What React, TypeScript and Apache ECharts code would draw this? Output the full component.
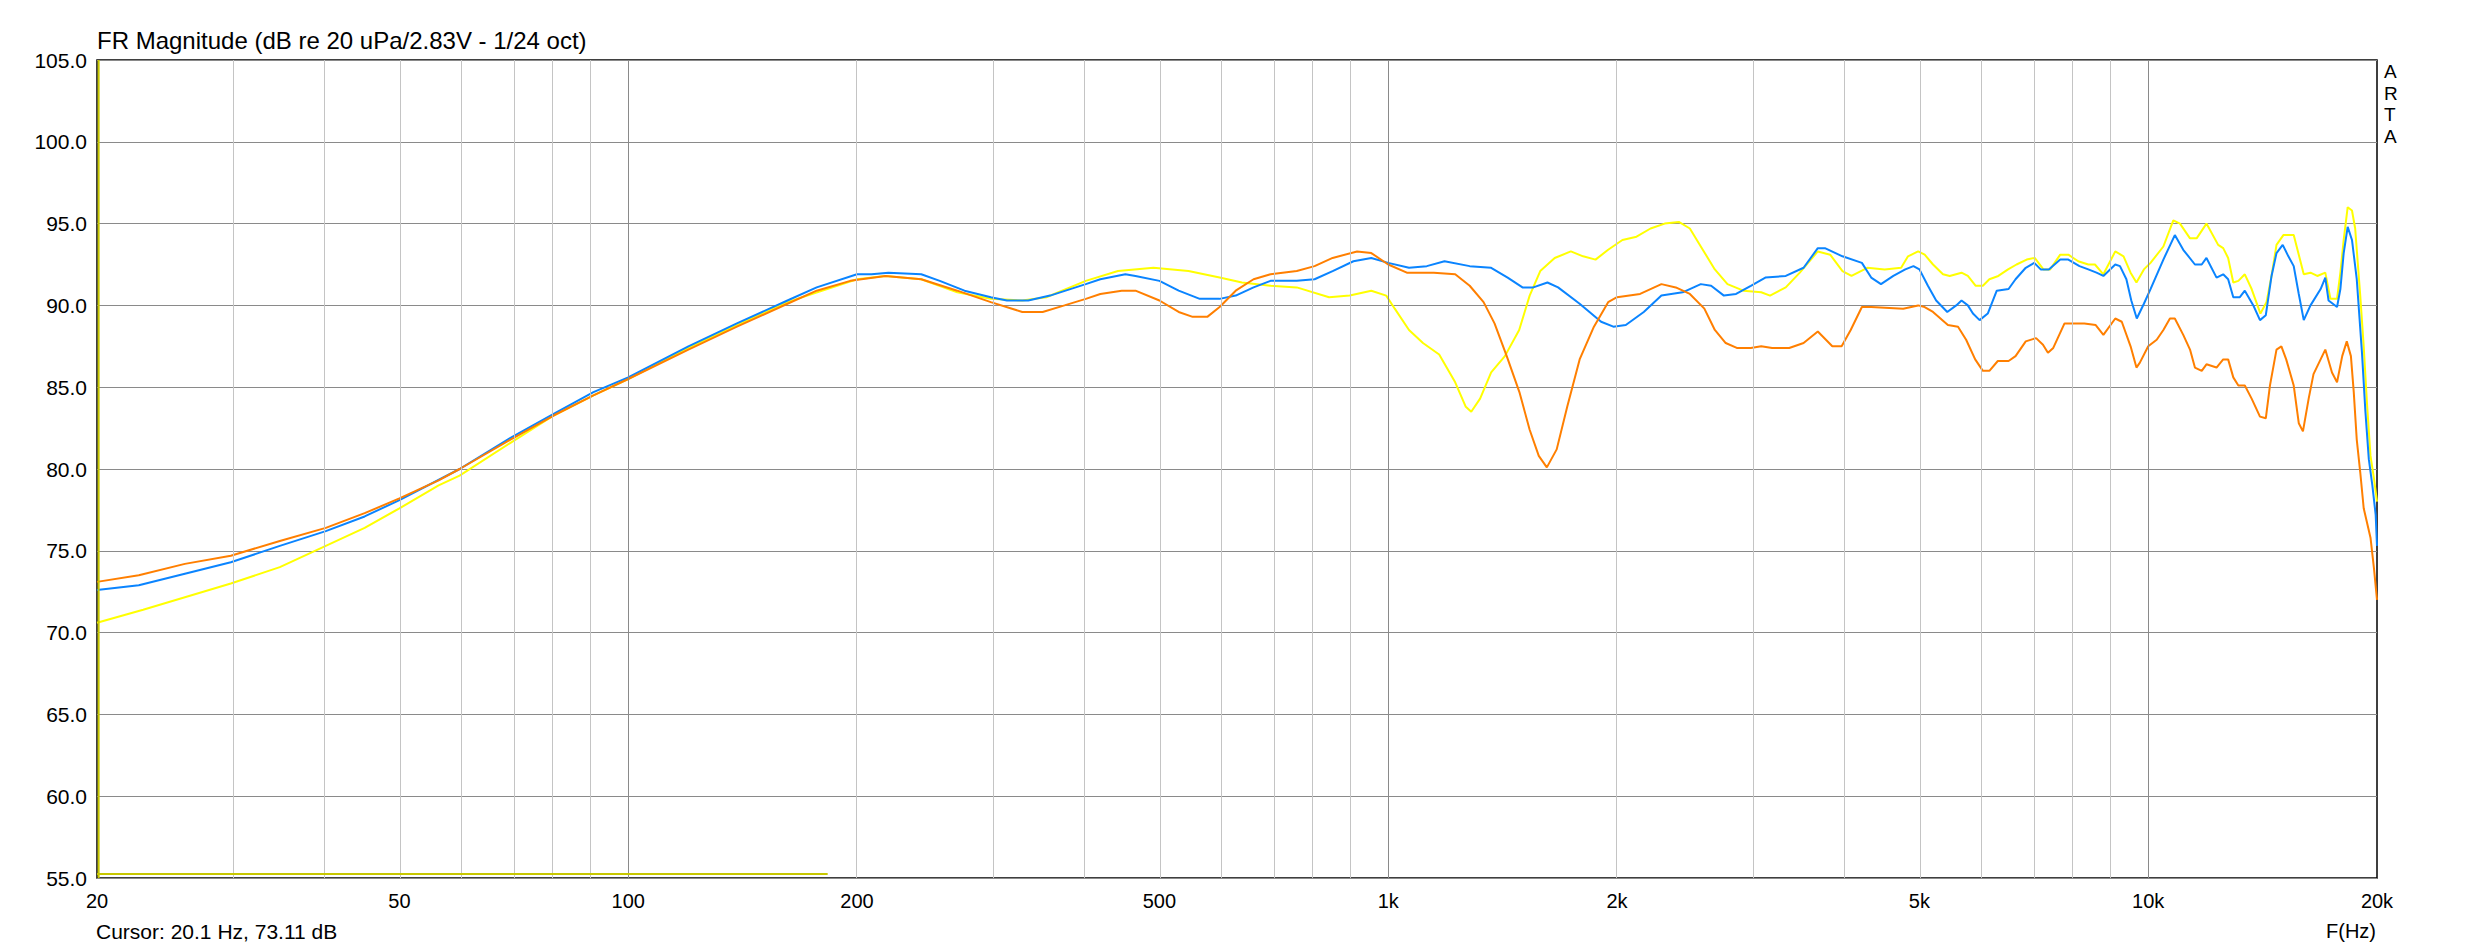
import React, { useEffect, useRef } from "react";
import * as echarts from "echarts";

// ---- data ----
const xTickFreqs = [20, 50, 100, 200, 500, 1000, 2000, 5000, 10000, 20000];
const minorGridFreqs = [30, 40, 50, 60, 70, 80, 90, 200, 300, 400, 500, 600, 700, 800, 900, 2000, 3000, 4000, 5000, 6000, 7000, 8000, 9000];
const majorGridFreqs = [100, 1000, 10000];

const blueFreq = [20, 22.7, 26.1, 30, 34.8, 40, 45, 50, 60, 70, 80, 90, 100, 120, 139, 162, 177, 200, 209, 220, 243, 257, 277, 300, 315, 336, 359, 400, 418, 451, 465, 500, 530, 565, 600, 630, 665, 700, 758, 800, 845, 900, 950, 1000, 1065, 1124, 1186, 1280, 1366, 1436, 1502, 1552, 1620, 1673, 1786, 1906, 1978, 2054, 2169, 2288, 2440, 2578, 2660, 2765, 2869, 3000, 3135, 3335, 3520, 3675, 3755, 3960, 4200, 4320, 4450, 4620, 4790, 4910, 5000, 5130, 5260, 5440, 5590, 5680, 5790, 5880, 6000, 6150, 6320, 6550, 6690, 6900, 7080, 7220, 7400, 7660, 7850, 8120, 8340, 8550, 8730, 9050, 9180, 9360, 9500, 9660, 9870, 10070, 10470, 10840, 11120, 11520, 11760, 11930, 12300, 12550, 12740, 12940, 13200, 13400, 13750, 14030, 14280, 14530, 14750, 15030, 15290, 15540, 15780, 16020, 16350, 16860, 17100, 17270, 17720, 17900, 18080, 18300, 18540, 18810, 19110, 19310, 19510, 19720, 19920, 20000];
const blueDb = [72.6, 72.9, 73.6, 74.3, 75.3, 76.2, 77.1, 78.1, 80.0, 81.9, 83.4, 84.7, 85.6, 87.5, 88.9, 90.3, 91.1, 91.9, 91.9, 92.0, 91.9, 91.5, 90.9, 90.5, 90.3, 90.3, 90.6, 91.3, 91.6, 91.9, 91.8, 91.5, 90.9, 90.4, 90.4, 90.6, 91.1, 91.5, 91.5, 91.6, 92.1, 92.7, 92.9, 92.6, 92.3, 92.4, 92.7, 92.4, 92.3, 91.7, 91.1, 91.1, 91.4, 91.1, 90.1, 89.0, 88.7, 88.8, 89.6, 90.6, 90.8, 91.3, 91.2, 90.6, 90.7, 91.2, 91.7, 91.8, 92.3, 93.5, 93.5, 93.0, 92.6, 91.7, 91.3, 91.8, 92.2, 92.4, 92.2, 91.2, 90.3, 89.6, 90.0, 90.3, 90.0, 89.5, 89.1, 89.5, 90.9, 91.0, 91.6, 92.3, 92.6, 92.2, 92.2, 92.8, 92.8, 92.4, 92.2, 92.0, 91.8, 92.5, 92.4, 91.6, 90.3, 89.2, 90.1, 91.0, 92.8, 94.3, 93.4, 92.5, 92.5, 92.9, 91.7, 91.9, 91.6, 90.5, 90.5, 90.9, 90.0, 89.1, 89.4, 91.8, 93.2, 93.7, 93.0, 92.4, 90.7, 89.1, 90.0, 91.0, 91.7, 90.3, 89.9, 91.0, 93.2, 94.8, 94.0, 91.6, 87.1, 83.5, 80.6, 79.0, 77.2, 75.3];

const orangeFreq = [20, 22.7, 26.1, 30, 34.8, 40, 45, 50, 56.3, 60, 70, 80, 90, 100, 120, 139, 162, 177, 196, 218, 243, 271, 300, 330, 351, 375, 400, 418, 446, 465, 500, 530, 553, 578, 600, 630, 665, 700, 758, 800, 845, 910, 950, 1000, 1058, 1148, 1225, 1280, 1335, 1380, 1432, 1488, 1535, 1578, 1617, 1666, 1720, 1786, 1865, 1947, 2000, 2145, 2288, 2390, 2494, 2606, 2690, 2780, 2875, 3000, 3096, 3200, 3370, 3520, 3675, 3840, 3950, 4060, 4200, 4320, 4760, 4980, 5080, 5210, 5450, 5620, 5760, 5920, 6060, 6180, 6340, 6550, 6690, 6900, 7120, 7270, 7380, 7500, 7760, 8030, 8240, 8530, 8730, 9050, 9230, 9480, 9650, 9750, 10000, 10260, 10470, 10680, 10840, 11120, 11350, 11520, 11760, 11930, 12300, 12550, 12740, 12940, 13140, 13400, 13680, 14030, 14280, 14460, 14750, 14970, 15190, 15540, 15780, 15980, 16260, 16500, 17100, 17450, 17720, 18000, 18250, 18480, 18640, 18810, 19010, 19210, 19610, 19820, 20000];
const orangeDb = [73.1, 73.5, 74.2, 74.7, 75.6, 76.4, 77.3, 78.2, 79.3, 80.0, 81.8, 83.3, 84.5, 85.5, 87.3, 88.7, 90.1, 90.9, 91.5, 91.8, 91.6, 90.9, 90.2, 89.6, 89.6, 90.0, 90.4, 90.7, 90.9, 90.9, 90.3, 89.6, 89.3, 89.3, 89.9, 90.9, 91.6, 91.9, 92.1, 92.4, 92.9, 93.3, 93.2, 92.5, 92.0, 92.0, 91.9, 91.2, 90.2, 88.9, 86.9, 84.7, 82.4, 80.8, 80.1, 81.2, 83.8, 86.7, 88.7, 90.2, 90.5, 90.7, 91.3, 91.1, 90.7, 89.8, 88.5, 87.7, 87.4, 87.4, 87.5, 87.4, 87.4, 87.7, 88.4, 87.5, 87.5, 88.5, 89.9, 89.9, 89.8, 90.0, 89.9, 89.6, 88.8, 88.7, 87.9, 86.7, 86.0, 86.0, 86.6, 86.6, 86.9, 87.8, 88.0, 87.6, 87.1, 87.4, 88.9, 88.9, 88.9, 88.8, 88.2, 89.2, 89.0, 87.5, 86.2, 86.5, 87.5, 87.9, 88.5, 89.2, 89.2, 88.2, 87.3, 86.2, 86.0, 86.4, 86.2, 86.7, 86.7, 85.6, 85.1, 85.1, 84.3, 83.2, 83.1, 85.1, 87.3, 87.5, 86.7, 85.1, 82.8, 82.3, 84.3, 85.8, 87.3, 85.9, 85.3, 86.9, 87.8, 86.9, 84.7, 81.8, 79.8, 77.6, 75.8, 73.9, 72.0];

const yellowFreq = [20, 23, 30, 34.8, 40, 45, 50, 56.3, 60, 70, 80, 90, 100, 120, 139, 162, 200, 218, 243, 271, 300, 330, 355, 400, 441, 491, 546, 600, 642, 700, 758, 836, 890, 950, 994, 1020, 1065, 1111, 1167, 1225, 1265, 1286, 1321, 1366, 1424, 1487, 1535, 1585, 1656, 1739, 1805, 1874, 1947, 2033, 2122, 2214, 2311, 2412, 2494, 2578, 2690, 2795, 2933, 3096, 3180, 3335, 3480, 3675, 3815, 3960, 4070, 4270, 4500, 4730, 4830, 4980, 5080, 5210, 5370, 5480, 5680, 5790, 5930, 6060, 6180, 6350, 6540, 6710, 6920, 7090, 7280, 7430, 7660, 7850, 8090, 8340, 8510, 8730, 9050, 9280, 9480, 9650, 9870, 10070, 10470, 10790, 11010, 11350, 11580, 11930, 12360, 12550, 12740, 12940, 13140, 13400, 13680, 14050, 14310, 14530, 14750, 15060, 15540, 15780, 16020, 16350, 16690, 17100, 17370, 17720, 17900, 18080, 18300, 18540, 18720, 19010, 19210, 19410, 19610, 19820, 20000];
const yellowDb = [70.6, 71.4, 73.0, 74.0, 75.3, 76.4, 77.6, 79.0, 79.6, 81.6, 83.3, 84.5, 85.5, 87.4, 88.8, 90.2, 91.6, 91.8, 91.6, 90.8, 90.4, 90.3, 90.5, 91.5, 92.1, 92.3, 92.1, 91.7, 91.4, 91.2, 91.1, 90.5, 90.6, 90.9, 90.6, 89.8, 88.5, 87.7, 87.0, 85.3, 83.8, 83.5, 84.3, 85.9, 86.9, 88.5, 90.6, 92.1, 92.9, 93.3, 93.0, 92.8, 93.4, 94.0, 94.2, 94.7, 95.0, 95.1, 94.7, 93.6, 92.2, 91.3, 90.9, 90.8, 90.6, 91.1, 92.0, 93.3, 93.1, 92.1, 91.8, 92.3, 92.2, 92.3, 93.0, 93.3, 93.1, 92.5, 91.9, 91.8, 92.0, 91.8, 91.2, 91.2, 91.6, 91.8, 92.2, 92.5, 92.8, 92.9, 92.2, 92.2, 93.1, 93.1, 92.7, 92.5, 92.5, 91.9, 93.3, 93.0, 92.0, 91.4, 92.2, 92.6, 93.6, 95.2, 95.0, 94.1, 94.1, 95.0, 93.7, 93.5, 92.9, 91.4, 91.5, 91.9, 91.0, 89.5, 90.2, 91.8, 93.7, 94.3, 94.3, 93.1, 91.9, 92.0, 91.8, 92.0, 90.4, 90.4, 92.0, 94.0, 96.0, 95.8, 94.7, 90.6, 87.5, 83.9, 80.8, 79.4, 78.0];

const cursorFreq = [20.1, 20.1];
const cursorDb = [105, 55];
const markerFreq = [20, 183];
const markerDb = [55.25, 55.25];

const titleText = "FR Magnitude (dB re 20 uPa/2.83V - 1/24 oct)";
const cursorText = "Cursor: 20.1 Hz, 73.11 dB";
const xUnitText = "F(Hz)";
const brandText = "A\nR\nT\nA";

const FONT = "'Liberation Sans', Arial, sans-serif";

const toXY = (freqs: number[], dbs: number[]) => freqs.map((f, i) => [Math.log10(f), dbs[i]]);

const fmtFreq = (v: number) => {
  const f = Math.round(Math.pow(10, v));
  return f >= 1000 ? `${Math.round(f / 100) / 10}k` : String(f);
};

export default function App() {
  const ref = useRef<HTMLDivElement>(null);

  useEffect(() => {
    if (!ref.current) return;
    const chart = echarts.init(ref.current, undefined, { renderer: "svg" });

    const gridLines = [
      ...minorGridFreqs.map((f) => ({ xAxis: Math.log10(f), lineStyle: { color: "#c4c4c4", width: 1, type: "solid" } })),
      ...majorGridFreqs.map((f) => ({ xAxis: Math.log10(f), lineStyle: { color: "#8a8a8a", width: 1, type: "solid" } })),
    ];

    const curve = (name: string, color: string, data: number[][], z: number) => ({
      name,
      type: "line",
      data,
      showSymbol: false,
      symbol: "none",
      smooth: false,
      z,
      lineStyle: { color, width: 2 },
      silent: true,
    });

    chart.setOption({
      animation: false,
      backgroundColor: "#ffffff",
      textStyle: { fontFamily: FONT },
      title: [
        { text: titleText, left: 97, top: 28, padding: 0, textStyle: { fontSize: 24, fontWeight: "normal", color: "#000", fontFamily: FONT } },
        { text: cursorText, left: 96, top: 921, padding: 0, textStyle: { fontSize: 21, fontWeight: "normal", color: "#000", fontFamily: FONT } },
        { text: xUnitText, right: 97, top: 921, padding: 0, textStyle: { fontSize: 20, fontWeight: "normal", color: "#000", fontFamily: FONT } },
        { text: brandText, left: 2384, top: 61, padding: 0, textStyle: { fontSize: 19, fontWeight: "normal", color: "#000", lineHeight: 21.5, fontFamily: FONT } },
      ],
      grid: { left: 97, right: 96, top: 60, bottom: 72, show: true, borderColor: "#000", borderWidth: 1.5, backgroundColor: "#fff" },
      xAxis: {
        type: "value",
        min: Math.log10(20),
        max: Math.log10(20000),
        axisLine: { show: false },
        axisTick: { show: false },
        splitLine: { show: false },
        axisLabel: {
          customValues: xTickFreqs.map((f) => Math.log10(f)),
          formatter: (v: number) => fmtFreq(v),
          color: "#000",
          fontSize: 20,
          fontFamily: FONT,
          margin: 13,
        },
      },
      yAxis: {
        type: "value",
        min: 55,
        max: 105,
        interval: 5,
        axisLine: { show: false },
        axisTick: { show: false },
        splitLine: { show: true, lineStyle: { color: "#8a8a8a", width: 1 } },
        axisLabel: {
          formatter: (v: number) => v.toFixed(1),
          color: "#000",
          fontSize: 21,
          fontFamily: FONT,
          margin: 10,
        },
      },
      series: [
        {
          name: "grid",
          type: "line",
          data: [],
          z: 1,
          silent: true,
          markLine: { symbol: "none", silent: true, label: { show: false }, emphasis: { disabled: true }, data: gridLines, animation: false },
        },
        curve("yellow", "#ffff00", toXY(yellowFreq, yellowDb), 2),
        curve("blue", "#0a84ff", toXY(blueFreq, blueDb), 3),
        curve("orange", "#ff7f00", toXY(orangeFreq, orangeDb), 4),
        curve("marker", "#c8c800", toXY(markerFreq, markerDb), 5),
        curve("cursor", "#c8c800", toXY(cursorFreq, cursorDb), 6),
      ],
    });

    return () => chart.dispose();
  }, []);

  return <div ref={ref} style={{ position: "fixed", left: 0, top: 0, width: 2473, height: 950 }} />;
}
